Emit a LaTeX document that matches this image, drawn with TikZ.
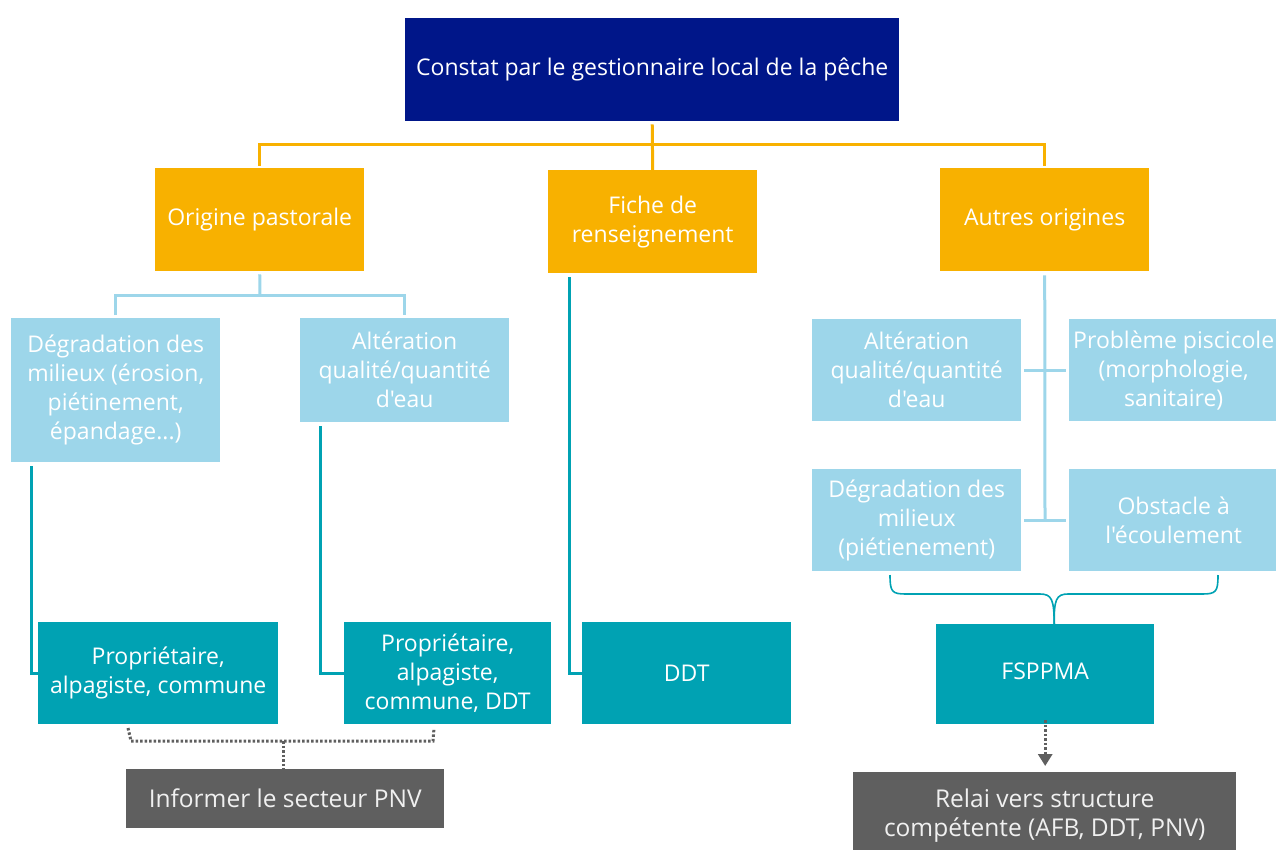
\documentclass[tikz,border=0pt]{standalone}
\usepackage{fontspec}
\setmainfont{Open Sans}[Ligatures=TeXOff]
\usetikzlibrary{arrows.meta,calc}
\definecolor{navyc}{RGB}{0,22,137}
\definecolor{orangec}{RGB}{248,177,0}
\definecolor{lbluec}{RGB}{157,214,234}
\definecolor{tealc}{RGB}{0,162,179}
\definecolor{grayc}{RGB}{95,95,95}
\begin{document}
\begin{tikzpicture}[x=1pt,y=-1pt,
  box/.style={rectangle, inner sep=0pt, text=white, align=center,
    font=\fontsize{23}{29}\selectfont, anchor=north west,
    minimum width=209pt, minimum height=103pt},
  graybox/.style={box, fill=grayc, text=white!94!black, font=\fontsize{24.5}{29}\selectfont},
  oline/.style={draw=orangec, line width=3pt},
  bline/.style={draw=lbluec, line width=3pt},
  tline/.style={draw=tealc, line width=3pt},
  dline/.style={draw=grayc, line width=3pt, dash pattern=on 2.5pt off 2pt},
]
\useasboundingbox (0,0) rectangle (1276,850);
\clip (0,0) rectangle (1276,850);

% top
\node[box, fill=navyc, minimum width=494pt] (top) at (405,18) {\raisebox{-2pt}{Constat par le gestionnaire local de la pêche}};

% orange
\node[box, fill=orangec] (orig) at (155,168) {\raisebox{-2pt}{Origine pastorale}};
\node[box, fill=orangec] (fiche) at (548,170) {Fiche de\\renseignement};
\node[box, fill=orangec] (autres) at (940,168) {\raisebox{-2pt}{Autres origines}};

% light blue
\node[box, fill=lbluec, minimum height=144pt] (degr) at (11,318) {Dégradation des\\milieux (érosion,\\piétinement,\\épandage...)};
\node[box, fill=lbluec, minimum height=104pt] (alt) at (300,318) {Altération\\qualité/quantité\\d'eau};
\node[box, fill=lbluec, minimum height=102pt] (alt2) at (812,319) {Altération\\qualité/quantité\\d'eau};
\node[box, fill=lbluec, minimum height=102pt] (pisc) at (1069,319) {Problème piscicole\\(morphologie,\\sanitaire)};
\node[box, fill=lbluec, minimum height=102pt] (degr2) at (812,469) {Dégradation des\\milieux\\(piétienement)};
\node[box, fill=lbluec, minimum height=102pt] (obst) at (1069,469) {Obstacle à\\l'écoulement};

% teal
\node[box, fill=tealc, minimum width=240pt, minimum height=102pt] (prop1) at (38,622) {Propriétaire,\\alpagiste, commune};
\node[box, fill=tealc, minimum width=207pt, minimum height=102pt] (prop2) at (344,622) {Propriétaire,\\alpagiste,\\commune, DDT};
\node[box, fill=tealc, minimum height=102pt] (ddt) at (582,622) {DDT};
\node[box, fill=tealc, minimum width=218pt, minimum height=100pt] (fsppma) at (936,624) {\raisebox{7pt}{FSPPMA}};

% gray
\node[graybox, minimum width=318pt, minimum height=59pt] (inf) at (126,769) {Informer le secteur PNV};
\node[graybox, minimum width=383pt, minimum height=86pt] (relai) at (853,772) {Relai vers structure\\compétente (AFB, DDT, PNV)};

% orange connectors
\coordinate (ob) at (652,145);
\draw[oline, shorten <=3pt] (top.south) -- (fiche.north);
\draw[oline, shorten <=2pt, shorten >=2pt] (orig.north) |- (ob) -| (autres.north);

% light blue connectors
\coordinate (lb) at (260,295);
\draw[bline, shorten <=3pt] (orig.south) -- (lb);
\draw[bline, shorten <=3pt, shorten >=3pt] (degr.north) |- (lb) -| (alt.north);
\coordinate (rb) at (1045,521);
\draw[bline, shorten <=4pt] (autres.south) -- (rb);
\draw[bline, shorten <=3pt, shorten >=3pt] (alt2.east) -- (pisc.west);
\draw[bline, shorten <=3pt, shorten >=3pt] (degr2.east) -- (obst.west);

% teal elbows
\draw[tline, shorten <=4pt] ([xshift=20pt]degr.south west) |- (prop1.west);
\draw[tline, shorten <=4pt] ([xshift=20pt]alt.south west) |- (prop2.west);
\draw[tline, shorten <=4pt] ([xshift=21pt]fiche.south west) |- (ddt.west);

% brace to FSPPMA
\coordinate (bl) at (890,575);
\coordinate (br) at (1218,575);
\coordinate (bt) at ([xshift=9pt]fsppma.north);
\draw[draw=tealc, line width=1.6pt] (bl) .. controls (890,592) and (892,594) .. (906,594)
  -- (1040,594) .. controls (1052,594) and (1054,600) .. (bt);
\draw[draw=tealc, line width=1.6pt] (br) .. controls (1218,592) and (1216,594) .. (1202,594)
  -- (1068,594) .. controls (1056,594) and (1054,600) .. (bt);

% dotted bracket to Informer
\coordinate (dl) at (128,728);
\coordinate (dr) at (434,728);
\coordinate (dm) at (283,741);
\draw[dline] (dl) -- (131,741) -- (433,741) -- (dr);
\draw[dline] (dm) -- (inf.north -| dm);

% dotted arrow to Relai
\draw[dline, -{Triangle[width=14pt,length=12pt,sep=0pt]}] ([yshift=4pt]fsppma.south) -- ([yshift=6pt]relai.north -| fsppma.south);
\end{tikzpicture}
\end{document}
